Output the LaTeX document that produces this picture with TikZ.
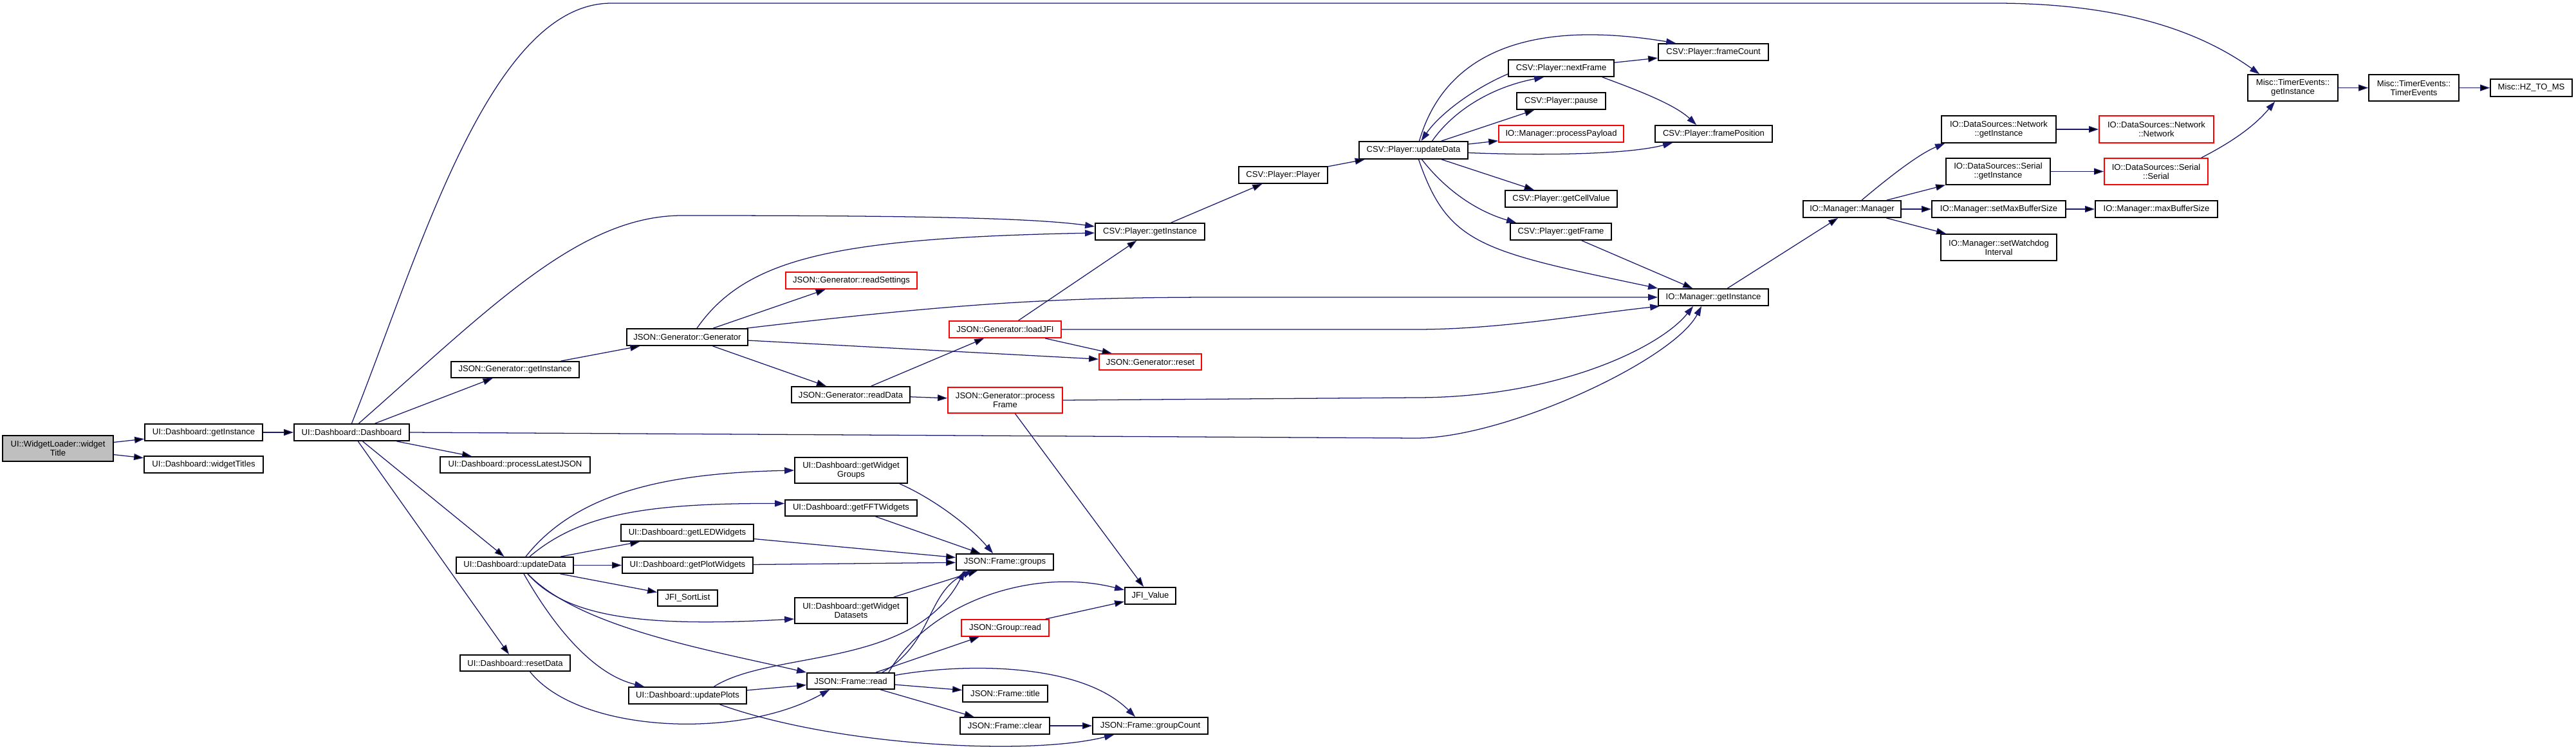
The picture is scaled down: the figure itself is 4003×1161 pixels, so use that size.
\documentclass[tikz,border=0pt]{standalone}
\usepackage{fontspec}
\setmainfont{Liberation Sans}
\usetikzlibrary{
    arrows.meta,
    calc
}
\definecolor{edgeblue}{HTML}{191970}
\definecolor{boxred}{HTML}{FF0000}
\definecolor{rootgray}{HTML}{BFBFBF}
\tikzset{
    >={Triangle[length=0.375cm,width=0.25cm]},
    fn/.style 2 args={
        draw=black,
        line width=1.3pt,
        inner sep=0pt,
        minimum width=#1*0.025cm,
        minimum height=#2*0.025cm,
        font=\fontsize{9.3}{9.9}\selectfont,
        align=center
    },
    trunc/.style={draw=boxred},
    root/.style={fill=rootgray},
    call/.style={->, draw=edgeblue, line width=0.9pt}
}

\begin{document}
\begin{tikzpicture}[
    x=0.025cm,
    y=-0.025cm
]
    \useasboundingbox (0,0) rectangle (4003,1161);

    % Funciones
    \node[fn={172}{40}, root] (wlTitle)  at (90,697)     {UI::WidgetLoader::widget\\Title};

    \node[fn={183}{26}] (dbInst)   at (316.5,672)  {UI::Dashboard::getInstance};
    \node[fn={185}{26}] (dbTitles) at (316.5,722)  {UI::Dashboard::widgetTitles};
    \node[fn={179}{26}] (dbDash)   at (546.5,672)  {UI::Dashboard::Dashboard};

    \node[fn={199}{25}] (genInst)  at (800.5,574.5)  {JSON::Generator::getInstance};
    \node[fn={233}{25}] (dbLatest) at (800.5,722.5)  {UI::Dashboard::processLatestJSON};
    \node[fn={182}{25}] (dbUpdate) at (800,878.5)    {UI::Dashboard::updateData};
    \node[fn={171}{25}] (dbReset)  at (800.5,1030.5) {UI::Dashboard::resetData};

    \node[fn={188}{26}] (genGen)   at (1068,524)     {JSON::Generator::Generator};
    \node[fn={206}{26}] (wgLED)    at (1068,828)     {UI::Dashboard::getLEDWidgets};
    \node[fn={203}{25}] (wgPlot)   at (1068.5,878.5) {UI::Dashboard::getPlotWidgets};
    \node[fn={93}{25}]  (sortList) at (1068.5,929.5) {JFI\_SortList};
    \node[fn={183}{26}] (dbPlots)  at (1068.5,1081)  {UI::Dashboard::updatePlots};

    \node[fn={204}{26}, trunc] (genSettings) at (1323,436) {JSON::Generator::readSettings};
    \node[fn={184}{25}] (genRead)  at (1322,613.5)   {JSON::Generator::readData};
    \node[fn={175}{40}] (wgGroups) at (1322.5,731)   {UI::Dashboard::getWidget\\Groups};
    \node[fn={205}{25}] (wgFFT)    at (1322.5,789.5) {UI::Dashboard::getFFTWidgets};
    \node[fn={175}{40}] (wgData)   at (1322.5,949)   {UI::Dashboard::getWidget\\Datasets};
    \node[fn={136}{25}] (frRead)   at (1322,1058.5)  {JSON::Frame::read};

    \node[fn={174}{26}, trunc] (genLoad) at (1562,512) {JSON::Generator::loadJFI};
    \node[fn={178}{40}, trunc] (genProc) at (1562,622) {JSON::Generator::process\\Frame};
    \node[fn={151}{25}] (frGroups) at (1561.5,873.5) {JSON::Frame::groups};
    \node[fn={136}{26}, trunc] (grRead) at (1562,976)  {JSON::Group::read};
    \node[fn={132}{26}] (frTitle)  at (1562,1078)    {JSON::Frame::title};
    \node[fn={139}{26}] (frClear)  at (1561.5,1128)  {JSON::Frame::clear};

    \node[fn={170}{26}] (csvInst)  at (1787,360)     {CSV::Player::getInstance};
    \node[fn={159}{25}, trunc] (genReset) at (1787.5,562.5) {JSON::Generator::reset};
    \node[fn={79}{26}]  (jfiValue) at (1787.5,926)   {JFI\_Value};
    \node[fn={179}{26}] (frCount)  at (1787.5,1128)  {JSON::Frame::groupCount};

    \node[fn={138}{26}] (csvPlayer) at (1994,272)    {CSV::Player::Player};
    \node[fn={169}{27}] (csvUpdate) at (2196.5,233.5) {CSV::Player::updateData};

    \node[fn={164}{26}] (csvNext)  at (2426,106)     {CSV::Player::nextFrame};
    \node[fn={138}{26}] (csvPause) at (2426,157)     {CSV::Player::pause};
    \node[fn={194}{26}, trunc] (ioPayload) at (2426,208) {IO::Manager::processPayload};
    \node[fn={174}{26}] (csvCell)  at (2426,309)     {CSV::Player::getCellValue};
    \node[fn={157}{26}] (csvFrame) at (2425.5,360)   {CSV::Player::getFrame};

    \node[fn={171}{26}] (csvCount) at (2662.5,81)    {CSV::Player::frameCount};
    \node[fn={182}{26}] (csvPos)   at (2663,208)     {CSV::Player::framePosition};
    \node[fn={171}{26}] (ioInst)   at (2662.5,462)   {IO::Manager::getInstance};

    \node[fn={152}{26}] (ioMgr)    at (2878,325)     {IO::Manager::Manager};
    \node[fn={178}{42}] (netInst)  at (3106,201)     {IO::DataSources::Network\\::getInstance};
    \node[fn={162}{41}] (serInst)  at (3105,266.5)   {IO::DataSources::Serial\\::getInstance};
    \node[fn={208}{26}] (ioSetMax) at (3106,325)     {IO::Manager::setMaxBufferSize};
    \node[fn={180}{41}] (ioWatch)  at (3106,384.5)   {IO::Manager::setWatchdog\\Interval};

    \node[fn={178}{42}, trunc] (netNet) at (3351,201)   {IO::DataSources::Network\\::Network};
    \node[fn={161}{41}, trunc] (serSer) at (3350.5,266.5) {IO::DataSources::Serial\\::Serial};
    \node[fn={190}{26}] (ioMax)    at (3351,325)     {IO::Manager::maxBufferSize};

    \node[fn={140}{41}] (tmInst)   at (3563,136.5)   {Misc::TimerEvents::\\getInstance};
    \node[fn={140}{41}] (tmTimer)  at (3751,136.5)   {Misc::TimerEvents::\\TimerEvents};
    \node[fn={127}{27}] (tmHz)     at (3933.5,136.5) {Misc::HZ\_TO\_MS};

    % Llamadas directas
    \path[call]
        (wlTitle)   edge (dbInst)
                    edge (dbTitles)
        (dbInst)    edge (dbDash)
        (dbDash)    edge (genInst)
                    edge (dbLatest)
                    edge (dbUpdate)
                    edge (dbReset)
        (genInst)   edge (genGen)
        (genGen)    edge (genSettings)
                    edge (genReset)
                    edge (genRead)
        (genRead)   edge (genLoad)
                    edge (genProc)
        (genLoad)   edge (csvInst)
                    edge (genReset)
        (genProc)   edge (jfiValue)
        (csvInst)   edge (csvPlayer)
        (csvPlayer) edge (csvUpdate)
        (csvUpdate) edge (csvPause)
                    edge (ioPayload)
                    edge (csvCell)
        (csvNext)   edge (csvCount)
        (csvFrame)  edge (ioInst)
        (ioInst)    edge (ioMgr)
        (ioMgr)     edge (serInst)
                    edge (ioSetMax)
                    edge (ioWatch)
        (netInst)   edge (netNet)
        (serInst)   edge (serSer)
        (ioSetMax)  edge (ioMax)
        (tmInst)    edge (tmTimer)
        (tmTimer)   edge (tmHz)
        (dbUpdate)  edge (wgLED)
                    edge (wgPlot)
                    edge (sortList)
        (wgFFT)     edge (frGroups)
        (wgLED)     edge (frGroups)
        (wgPlot)    edge (frGroups)
        (wgData)    edge (frGroups)
        (dbPlots)   edge (frRead)
        (frRead)    edge (grRead)
                    edge (frTitle)
                    edge (frClear)
        (frClear)   edge (frCount)
        (grRead)    edge (jfiValue);

    % Llamadas largas (Dashboard)
    \draw[call] (dbDash.north)
        .. controls (650,400) and (760,5) .. (950,5) -- (3100,5)
        .. controls (3300,5) and (3420,50) .. ($(tmInst.north west)+(19,0)$);
    \draw[call] ($(dbDash.north)+(11,0)$)
        .. controls (760,480) and (900,335) .. (1060,335)
        .. controls (1400,335) and (1600,338) .. ($(csvInst.west)+(0,-8)$);
    \draw[call] (dbDash.east) -- (2200,681)
        .. controls (2340,681) and (2600,560) .. ($(ioInst.south west)+(68,0)$);

    % Generator
    \draw[call] ($(genGen.north)+(15,0)$)
        .. controls (1160,400) and (1300,370) .. ($(csvInst.west)+(0,2)$);
    \draw[call] ($(genGen.north east)+(-3,0)$)
        .. controls (1500,470) and (1650,462) .. (1900,462) -- (ioInst.west);
    \draw[call] (genLoad.east) -- (2200,512)
        .. controls (2330,512) and (2450,490) .. ($(ioInst.south west)+(3,0)$);
    \draw[call] (genProc.east) -- (2200,618)
        .. controls (2420,618) and (2580,540) .. ($(ioInst.south west)+(55,0)$);

    % CSV::Player
    \draw[call] ($(csvUpdate.north)+(9,0)$)
        .. controls (2240,100) and (2350,25) .. ($(csvCount.north west)+(28,0)$);
    \draw[call] ($(csvUpdate.north)+(29,0)$)
        .. controls (2260,170) and (2320,135) .. ($(csvNext.south west)+(56,0)$);
    \draw[call] ($(csvNext.west)+(0,9)$)
        .. controls (2285,140) and (2235,180) .. ($(csvUpdate.north)+(12,0)$);
    \draw[call] ($(csvUpdate.east)+(0,4)$)
        .. controls (2400,242) and (2530,240) .. ($(csvPos.south west)+(28,0)$);
    \draw[call] ($(csvUpdate.south)+(13,0)$)
        .. controls (2250,300) and (2300,330) .. ($(csvFrame.north west)+(10,0)$);
    \draw[call] ($(csvUpdate.south)+(8,0)$)
        .. controls (2250,380) and (2300,390) .. (ioInst.north west);
    \draw[call] ($(csvNext.south east)+(-19,0)$)
        .. controls (2530,135) and (2600,160) .. ($(csvPos.north west)+(65,0)$);

    % IO::Manager y temporizador
    \draw[call] ($(ioMgr.north)+(15,0)$)
        .. controls (2930,280) and (2980,240) .. ($(netInst.south west)+(6,0)$);
    \draw[call] ($(serSer.north east)+(-11,0)$)
        .. controls (3460,225) and (3500,200) .. ($(tmInst.south west)+(43,0)$);

    % UI::Dashboard::updateData
    \draw[call] ($(dbUpdate.north)+(17,0)$)
        .. controls (900,760) and (1050,735) .. (wgGroups.west);
    \draw[call] ($(dbUpdate.north)+(23,0)$)
        .. controls (900,800) and (1000,782) .. ($(wgFFT.west)+(0,-7)$);
    \draw[call] ($(dbUpdate.south)+(20,0)$)
        .. controls (880,960) and (1000,975) .. ($(wgData.west)+(0,13)$);
    \draw[call] ($(dbUpdate.south)+(20,0)$)
        .. controls (900,975) and (1100,1010) .. (frRead.north west);
    \draw[call] ($(dbUpdate.south)+(14,0)$)
        .. controls (870,990) and (930,1050) .. ($(dbPlots.north west)+(25,0)$);

    % JSON::Frame
    \draw[call] ($(wgGroups.south east)+(-13,0)$)
        .. controls (1440,770) and (1500,810) .. ($(frGroups.north west)+(58,0)$);
    \draw[call] ($(dbPlots.north)+(41,0)$)
        .. controls (1200,1010) and (1420,1040) .. ($(frGroups.south west)+(14,0)$);
    \draw[call] ($(dbPlots.south)+(50,0)$)
        .. controls (1300,1160) and (1600,1175) .. ($(frCount.south west)+(34,0)$);
    \draw[call] ($(dbReset.south)+(23,0)$)
        .. controls (900,1140) and (1150,1150) .. ($(frRead.south west)+(36,0)$);
    \draw[call] ($(frRead.north east)+(-20,0)$)
        .. controls (1450,1000) and (1440,920) .. ($(frGroups.south west)+(26,0)$);
    \draw[call] ($(frRead.north east)+(-10,0)$)
        .. controls (1440,940) and (1600,880) .. ($(jfiValue.west)+(0,-9)$);
    \draw[call] ($(frRead.east)+(0,-9)$)
        .. controls (1500,1030) and (1680,1030) .. ($(frCount.north west)+(67,0)$);

\end{tikzpicture}
\end{document}
